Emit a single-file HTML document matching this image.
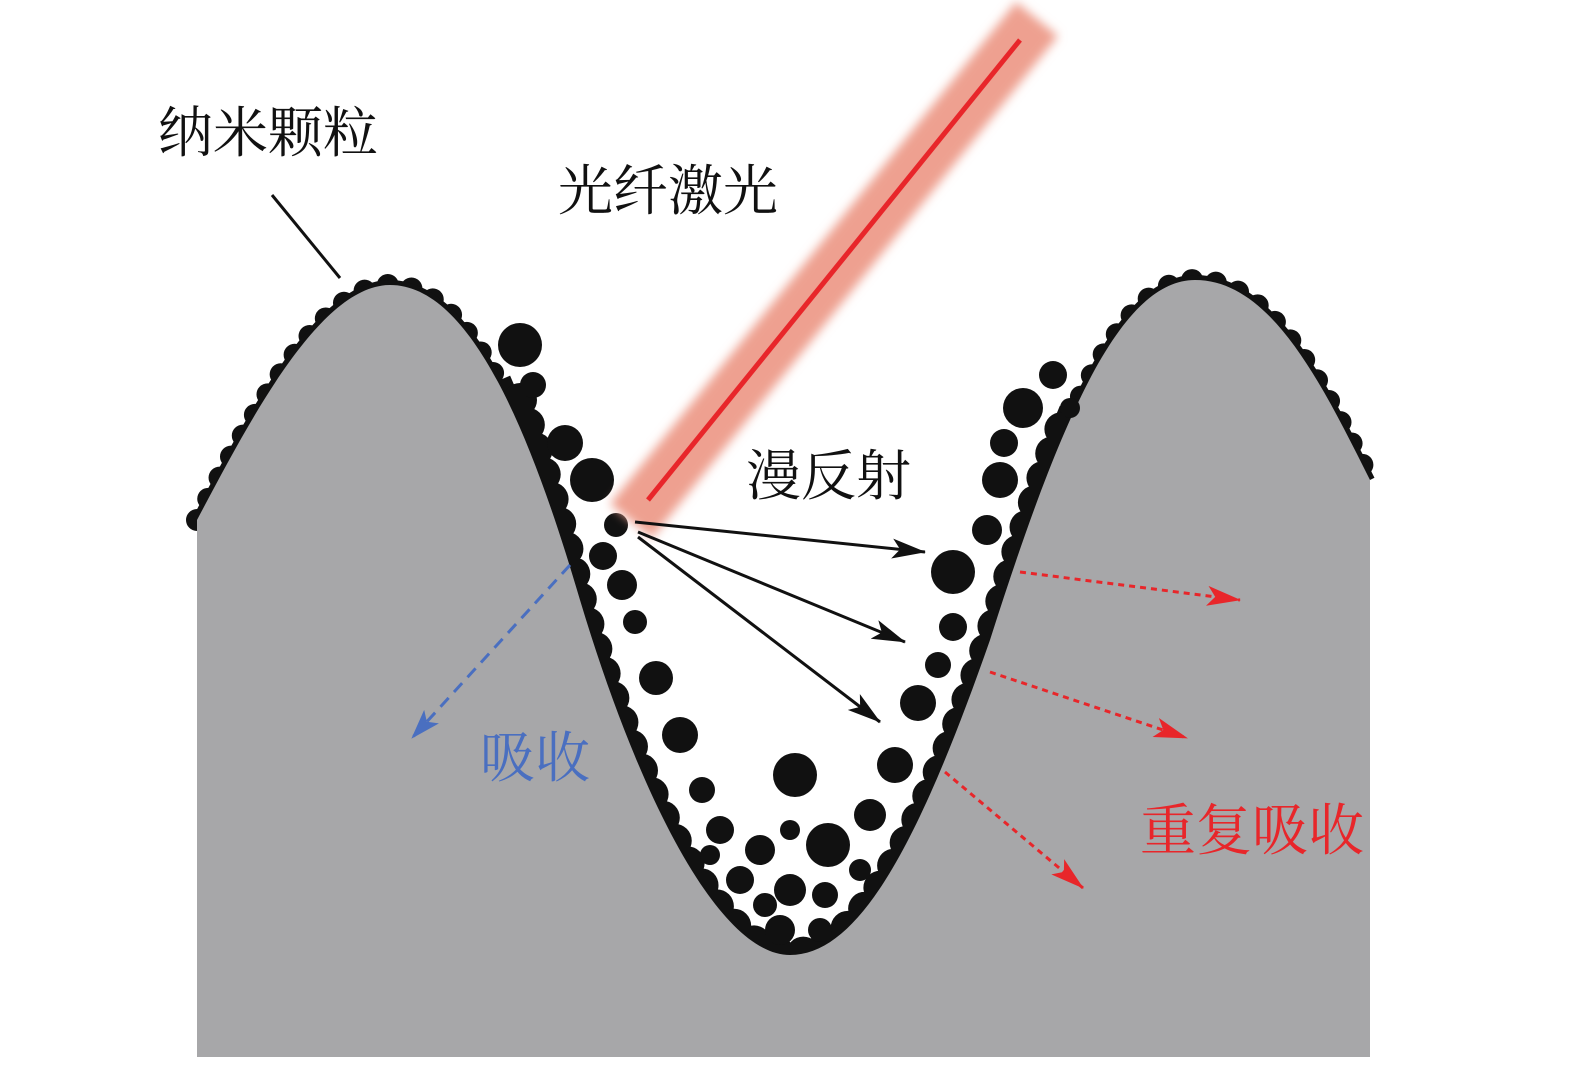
<!DOCTYPE html>
<html><head><meta charset="utf-8"><style>
html,body{margin:0;padding:0;background:#fff}
svg{display:block}
text{font-family:"Liberation Serif","Noto Serif CJK SC",serif}
</style></head><body>
<svg width="1575" height="1067" viewBox="0 0 1575 1067" xmlns="http://www.w3.org/2000/svg">
<defs>
<filter id="blur" x="-20%" y="-20%" width="140%" height="140%"><feGaussianBlur stdDeviation="5"/></filter>
<marker id="ak" markerWidth="34" markerHeight="20" refX="33" refY="10" orient="auto" markerUnits="userSpaceOnUse" viewBox="0 0 34 20"><path d="M0,0 L34,10 L0,20 L8,10 Z" fill="#111"/></marker>
<marker id="ab" markerWidth="30" markerHeight="20" refX="29" refY="10" orient="auto" markerUnits="userSpaceOnUse" viewBox="0 0 30 20"><path d="M0,0 L30,10 L0,20 L7,10 Z" fill="#4a6fc0"/></marker>
<marker id="ar" markerWidth="34" markerHeight="20" refX="33" refY="10" orient="auto" markerUnits="userSpaceOnUse" viewBox="0 0 34 20"><path d="M0,0 L34,10 L0,20 L8,10 Z" fill="#e8262a"/></marker>
</defs>
<!-- beads along surface -->
<path d="M197,520 C250,420 320,285 390,285 C470,285 530,430 580,600 C640,800 720,955 790,955 C860,955 920,840 990,640 C1060,420 1120,280 1195,280 C1270,280 1320,380 1370,480" fill="none" stroke="#111" stroke-width="22" stroke-linecap="round" stroke-dasharray="0 24"/>
<path d="M197,520 C250,420 320,285 390,285 C470,285 530,430 580,600 C640,800 720,955 790,955 C860,955 920,840 990,640 C1060,420 1120,280 1195,280 C1270,280 1320,380 1370,480" fill="none" stroke="#111" stroke-width="10"/>
<!-- valley thicker band -->
<path d="M500,380 C530,450 545,480 580,600 C640,800 720,955 790,955 C860,955 920,840 990,640 C1020,545 1045,470 1070,410" fill="none" stroke="#111" stroke-width="22"/>
<path d="M520,400 C545,480 560,520 580,600 C640,800 720,955 790,955 C860,955 920,840 990,640 C1020,545 1045,470 1065,420" fill="none" stroke="#111" stroke-width="34" stroke-linecap="round" stroke-dasharray="0 26"/>
<!-- gray substrate -->
<path d="M197,1057 L197,520 C250,420 320,285 390,285 C470,285 530,430 580,600 C640,800 720,955 790,955 C860,955 920,840 990,640 C1060,420 1120,280 1195,280 C1270,280 1320,380 1370,480 L1370,1057 Z" fill="#a7a7a9"/>
<g fill="#111">
<circle cx="520" cy="345" r="22"/><circle cx="533" cy="385" r="13"/><circle cx="565" cy="443" r="18"/>
<circle cx="592" cy="480" r="22"/><circle cx="616" cy="525" r="12"/><circle cx="603" cy="556" r="14"/>
<circle cx="622" cy="585" r="15"/><circle cx="635" cy="622" r="12"/><circle cx="656" cy="678" r="17"/>
<circle cx="680" cy="735" r="18"/><circle cx="702" cy="790" r="13"/><circle cx="795" cy="775" r="22"/>
<circle cx="790" cy="830" r="10"/><circle cx="828" cy="845" r="22"/><circle cx="760" cy="850" r="15"/>
<circle cx="870" cy="815" r="16"/><circle cx="895" cy="765" r="18"/><circle cx="918" cy="703" r="18"/>
<circle cx="938" cy="665" r="13"/><circle cx="953" cy="627" r="14"/><circle cx="953" cy="572" r="22"/>
<circle cx="987" cy="530" r="15"/><circle cx="1000" cy="480" r="18"/><circle cx="1004" cy="443" r="14"/>
<circle cx="1023" cy="408" r="20"/><circle cx="1053" cy="375" r="14"/><circle cx="1070" cy="408" r="10"/>
<circle cx="720" cy="830" r="14"/><circle cx="740" cy="880" r="14"/><circle cx="790" cy="890" r="16"/>
<circle cx="825" cy="895" r="13"/><circle cx="780" cy="930" r="15"/><circle cx="765" cy="905" r="12"/>
<circle cx="820" cy="930" r="12"/><circle cx="710" cy="855" r="10"/><circle cx="860" cy="870" r="11"/>
</g>
<!-- laser -->
<line x1="648" y1="500" x2="1020" y2="40" stroke="#eea090" stroke-width="54" stroke-linecap="square" filter="url(#blur)"/>
<line x1="648" y1="500" x2="1020" y2="40" stroke="#e8262a" stroke-width="5"/>
<!-- reflections -->
<g stroke="#111" stroke-width="3" fill="none">
<line x1="635" y1="522" x2="925" y2="552" marker-end="url(#ak)"/>
<line x1="638" y1="532" x2="905" y2="642" marker-end="url(#ak)"/>
<line x1="638" y1="537" x2="880" y2="722" marker-end="url(#ak)"/>
</g>
<line x1="570" y1="565" x2="412" y2="738" stroke="#4a6fc0" stroke-width="3" stroke-dasharray="12 8" marker-end="url(#ab)"/>
<g stroke="#e8262a" stroke-width="3" stroke-dasharray="6 5" fill="none">
<line x1="1020" y1="572" x2="1240" y2="600" marker-end="url(#ar)"/>
<line x1="990" y1="672" x2="1187" y2="738" marker-end="url(#ar)"/>
<line x1="945" y1="772" x2="1083" y2="888" marker-end="url(#ar)"/>
</g>
<line x1="272" y1="195" x2="340" y2="278" stroke="#111" stroke-width="3"/>
<text x="158" y="152" font-size="55" fill="#111">纳米颗粒</text>
<text x="558" y="210" font-size="55" fill="#111">光纤激光</text>
<text x="746" y="495" font-size="55" fill="#111">漫反射</text>
<text x="480" y="777" font-size="55" fill="#4a6fc0">吸收</text>
<text x="1140" y="850" font-size="56" fill="#e8262a">重复吸收</text>
</svg>
</body></html>
